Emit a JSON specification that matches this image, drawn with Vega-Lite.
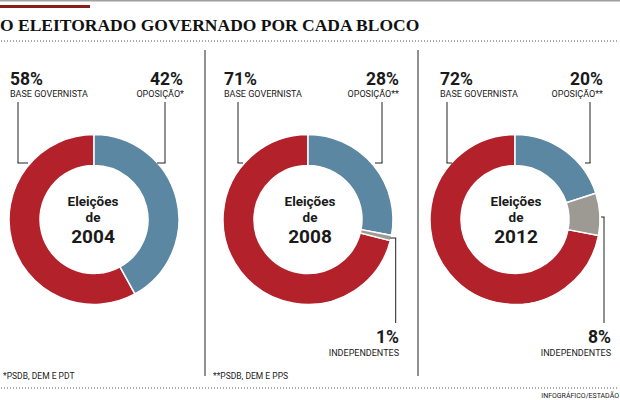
{
  "$schema": "https://vega.github.io/schema/vega-lite/v6.json",
  "padding": 0,
  "background": "white",
  "spacing": 0,
  "bounds": "flush",
  "config": {"view": {"stroke": null}, "text": {"font": "Roboto", "color": "#1a1a1a"}},
  "datasets": {
    "eleicoes": [
      {"ano": "2004", "bloco": "Base governista", "pct": 0.58, "rotulo": "BASE GOVERNISTA"},
      {"ano": "2004", "bloco": "Oposição", "pct": 0.42, "rotulo": "OPOSIÇÃO*"},
      {"ano": "2008", "bloco": "Base governista", "pct": 0.71, "rotulo": "BASE GOVERNISTA"},
      {"ano": "2008", "bloco": "Oposição", "pct": 0.28, "rotulo": "OPOSIÇÃO**"},
      {"ano": "2008", "bloco": "Independentes", "pct": 0.01, "rotulo": "INDEPENDENTES"},
      {"ano": "2012", "bloco": "Base governista", "pct": 0.72, "rotulo": "BASE GOVERNISTA"},
      {"ano": "2012", "bloco": "Oposição", "pct": 0.20, "rotulo": "OPOSIÇÃO**"},
      {"ano": "2012", "bloco": "Independentes", "pct": 0.08, "rotulo": "INDEPENDENTES"}
    ]
  },
  "hconcat": [
    {
      "width": 205, "height": 400,
      "data": {"name": "eleicoes"},
      "transform": [{"filter": "datum.ano == '2004'"}],
      "layer": [
        {"transform": [{"filter": "datum.bloco == 'Base governista'"}],
         "mark": {"type": "rect", "fill": "#a0a0a0", "strokeWidth": 0},
         "encoding": {"x": {"value": 0}, "x2": {"value": 620}, "y": {"value": 0}, "y2": {"value": 1.5}}},
        {"transform": [{"filter": "datum.bloco == 'Base governista'"}],
         "mark": {"type": "rect", "fill": "#8c1c1c", "strokeWidth": 0},
         "encoding": {"x": {"value": 0}, "x2": {"value": 90}, "y": {"value": 5}, "y2": {"value": 8}}},
        {"transform": [{"filter": "datum.bloco == 'Base governista'"}],
         "mark": {"type": "text", "text": "O ELEITORADO GOVERNADO POR CADA BLOCO", "font": "Liberation Serif", "fontWeight": "bold", "fontSize": 17.5, "align": "left", "baseline": "alphabetic", "color": "#111111"},
         "encoding": {"x": {"value": 0}, "y": {"value": 31}}},
        {"transform": [{"filter": "datum.bloco == 'Base governista'"}],
         "mark": {"type": "rule", "stroke": "#555555", "strokeWidth": 1, "strokeDash": [1, 2]},
         "encoding": {"x": {"value": 1}, "x2": {"value": 619}, "y": {"value": 41}, "y2": {"value": 41}}},
        {"transform": [{"filter": "datum.bloco == 'Base governista'"}],
         "mark": {"type": "rule", "stroke": "#555555", "strokeWidth": 1, "strokeDash": [1, 2]},
         "encoding": {"x": {"value": 1}, "x2": {"value": 619}, "y": {"value": 388}, "y2": {"value": 388}}},
        {"mark": {"type": "arc", "outerRadius": 85, "innerRadius": 54, "stroke": "white", "strokeWidth": 1.5},
         "encoding": {
           "x": {"value": 94}, "y": {"value": 219.5},
           "theta": {"field": "pct", "type": "quantitative", "stack": true},
           "order": {"field": "bloco", "sort": "descending"},
           "color": {"field": "bloco", "type": "nominal", "legend": null,
             "scale": {"domain": ["Oposição", "Independentes", "Base governista"], "range": ["#5b87a2", "#9c9a92", "#b3212a"]}}}},
        {"transform": [{"filter": "datum.bloco == 'Base governista'"}],
         "mark": {"type": "text", "text": "Eleições", "fontWeight": "bold", "fontSize": 13.5, "align": "center", "baseline": "alphabetic"},
         "encoding": {"x": {"value": 93}, "y": {"value": 206}}},
        {"transform": [{"filter": "datum.bloco == 'Base governista'"}],
         "mark": {"type": "text", "text": "de", "fontWeight": "bold", "fontSize": 13.5, "align": "center", "baseline": "alphabetic"},
         "encoding": {"x": {"value": 93}, "y": {"value": 222}}},
        {"transform": [{"filter": "datum.bloco == 'Base governista'"}],
         "mark": {"type": "text", "fontWeight": "bold", "fontSize": 19, "align": "center", "baseline": "alphabetic"},
         "encoding": {"x": {"value": 93}, "y": {"value": 243}, "text": {"field": "ano"}}},
        {"transform": [{"filter": "datum.bloco == 'Base governista'"}],
         "mark": {"type": "text", "fontWeight": "bold", "fontSize": 17.5, "align": "left", "baseline": "alphabetic"},
         "encoding": {"x": {"value": 10}, "y": {"value": 85}, "text": {"field": "pct", "format": ".0%"}}},
        {"transform": [{"filter": "datum.bloco == 'Base governista'"}],
         "mark": {"type": "text", "fontSize": 9, "align": "left", "baseline": "alphabetic"},
         "encoding": {"x": {"value": 10}, "y": {"value": 97}, "text": {"field": "rotulo"}}},
        {"transform": [{"filter": "datum.bloco == 'Oposição'"}],
         "mark": {"type": "text", "fontWeight": "bold", "fontSize": 17.5, "align": "right", "baseline": "alphabetic"},
         "encoding": {"x": {"value": 183}, "y": {"value": 85}, "text": {"field": "pct", "format": ".0%"}}},
        {"transform": [{"filter": "datum.bloco == 'Oposição'"}],
         "mark": {"type": "text", "fontSize": 9, "align": "right", "baseline": "alphabetic"},
         "encoding": {"x": {"value": 184}, "y": {"value": 97}, "text": {"field": "rotulo"}}},
        {"transform": [{"filter": "datum.bloco == 'Base governista'"}],
         "mark": {"type": "rule", "stroke": "#222222", "strokeWidth": 1},
         "encoding": {"x": {"value": 18}, "x2": {"value": 18}, "y": {"value": 102}, "y2": {"value": 163}}},
        {"transform": [{"filter": "datum.bloco == 'Base governista'"}],
         "mark": {"type": "rule", "stroke": "#222222", "strokeWidth": 1},
         "encoding": {"x": {"value": 17.5}, "x2": {"value": 28}, "y": {"value": 163}, "y2": {"value": 163}}},
        {"transform": [{"filter": "datum.bloco == 'Oposição'"}],
         "mark": {"type": "rule", "stroke": "#222222", "strokeWidth": 1},
         "encoding": {"x": {"value": 165}, "x2": {"value": 165}, "y": {"value": 102}, "y2": {"value": 163}}},
        {"transform": [{"filter": "datum.bloco == 'Oposição'"}],
         "mark": {"type": "rule", "stroke": "#222222", "strokeWidth": 1},
         "encoding": {"x": {"value": 165.5}, "x2": {"value": 157}, "y": {"value": 163}, "y2": {"value": 163}}},
        {"transform": [{"filter": "datum.bloco == 'Base governista'"}],
         "mark": {"type": "text", "text": "*PSDB, DEM E PDT", "fontSize": 8.5, "align": "left", "baseline": "alphabetic"},
         "encoding": {"x": {"value": 3}, "y": {"value": 379}}}
      ]
    },
    {
      "width": 213, "height": 400,
      "data": {"name": "eleicoes"},
      "transform": [{"filter": "datum.ano == '2008'"}],
      "layer": [
        {"transform": [{"filter": "datum.bloco == 'Base governista'"}],
         "mark": {"type": "rule", "stroke": "#222222", "strokeWidth": 1},
         "encoding": {"x": {"value": 0}, "x2": {"value": 0}, "y": {"value": 50}, "y2": {"value": 376}}},
        {"mark": {"type": "arc", "outerRadius": 85, "innerRadius": 54, "stroke": "white", "strokeWidth": 1.5},
         "encoding": {
           "x": {"value": 103}, "y": {"value": 219.5},
           "theta": {"field": "pct", "type": "quantitative", "stack": true},
           "order": {"field": "bloco", "sort": "descending"},
           "color": {"field": "bloco", "type": "nominal", "legend": null,
             "scale": {"domain": ["Oposição", "Independentes", "Base governista"], "range": ["#5b87a2", "#9c9a92", "#b3212a"]}}}},
        {"transform": [{"filter": "datum.bloco == 'Base governista'"}],
         "mark": {"type": "text", "text": "Eleições", "fontWeight": "bold", "fontSize": 13.5, "align": "center", "baseline": "alphabetic"},
         "encoding": {"x": {"value": 105}, "y": {"value": 206}}},
        {"transform": [{"filter": "datum.bloco == 'Base governista'"}],
         "mark": {"type": "text", "text": "de", "fontWeight": "bold", "fontSize": 13.5, "align": "center", "baseline": "alphabetic"},
         "encoding": {"x": {"value": 105}, "y": {"value": 222}}},
        {"transform": [{"filter": "datum.bloco == 'Base governista'"}],
         "mark": {"type": "text", "fontWeight": "bold", "fontSize": 19, "align": "center", "baseline": "alphabetic"},
         "encoding": {"x": {"value": 105}, "y": {"value": 243}, "text": {"field": "ano"}}},
        {"transform": [{"filter": "datum.bloco == 'Base governista'"}],
         "mark": {"type": "text", "fontWeight": "bold", "fontSize": 17.5, "align": "left", "baseline": "alphabetic"},
         "encoding": {"x": {"value": 19}, "y": {"value": 85}, "text": {"field": "pct", "format": ".0%"}}},
        {"transform": [{"filter": "datum.bloco == 'Base governista'"}],
         "mark": {"type": "text", "fontSize": 9, "align": "left", "baseline": "alphabetic"},
         "encoding": {"x": {"value": 19}, "y": {"value": 97}, "text": {"field": "rotulo"}}},
        {"transform": [{"filter": "datum.bloco == 'Oposição'"}],
         "mark": {"type": "text", "fontWeight": "bold", "fontSize": 17.5, "align": "right", "baseline": "alphabetic"},
         "encoding": {"x": {"value": 194}, "y": {"value": 85}, "text": {"field": "pct", "format": ".0%"}}},
        {"transform": [{"filter": "datum.bloco == 'Oposição'"}],
         "mark": {"type": "text", "fontSize": 9, "align": "right", "baseline": "alphabetic"},
         "encoding": {"x": {"value": 194}, "y": {"value": 97}, "text": {"field": "rotulo"}}},
        {"transform": [{"filter": "datum.bloco == 'Independentes'"}],
         "mark": {"type": "text", "fontWeight": "bold", "fontSize": 17.5, "align": "right", "baseline": "alphabetic"},
         "encoding": {"x": {"value": 194}, "y": {"value": 343}, "text": {"field": "pct", "format": ".0%"}}},
        {"transform": [{"filter": "datum.bloco == 'Independentes'"}],
         "mark": {"type": "text", "fontSize": 9, "align": "right", "baseline": "alphabetic"},
         "encoding": {"x": {"value": 194}, "y": {"value": 356}, "text": {"field": "rotulo"}}},
        {"transform": [{"filter": "datum.bloco == 'Base governista'"}],
         "mark": {"type": "rule", "stroke": "#222222", "strokeWidth": 1},
         "encoding": {"x": {"value": 33}, "x2": {"value": 33}, "y": {"value": 102}, "y2": {"value": 163}}},
        {"transform": [{"filter": "datum.bloco == 'Base governista'"}],
         "mark": {"type": "rule", "stroke": "#222222", "strokeWidth": 1},
         "encoding": {"x": {"value": 32.5}, "x2": {"value": 38}, "y": {"value": 163}, "y2": {"value": 163}}},
        {"transform": [{"filter": "datum.bloco == 'Oposição'"}],
         "mark": {"type": "rule", "stroke": "#222222", "strokeWidth": 1},
         "encoding": {"x": {"value": 177}, "x2": {"value": 177}, "y": {"value": 102}, "y2": {"value": 163}}},
        {"transform": [{"filter": "datum.bloco == 'Oposição'"}],
         "mark": {"type": "rule", "stroke": "#222222", "strokeWidth": 1},
         "encoding": {"x": {"value": 177.5}, "x2": {"value": 170}, "y": {"value": 163}, "y2": {"value": 163}}},
        {"transform": [{"filter": "datum.bloco == 'Independentes'"}],
         "mark": {"type": "rule", "stroke": "#222222", "strokeWidth": 1},
         "encoding": {"x": {"value": 185}, "x2": {"value": 191.2}, "y": {"value": 238}, "y2": {"value": 238}}},
        {"transform": [{"filter": "datum.bloco == 'Independentes'"}],
         "mark": {"type": "rule", "stroke": "#222222", "strokeWidth": 1},
         "encoding": {"x": {"value": 190.7}, "x2": {"value": 190.7}, "y": {"value": 238}, "y2": {"value": 323}}},
        {"transform": [{"filter": "datum.bloco == 'Base governista'"}],
         "mark": {"type": "text", "text": "**PSDB, DEM E PPS", "fontSize": 8.5, "align": "left", "baseline": "alphabetic"},
         "encoding": {"x": {"value": 8}, "y": {"value": 379}}}
      ]
    },
    {
      "width": 202, "height": 400,
      "data": {"name": "eleicoes"},
      "transform": [{"filter": "datum.ano == '2012'"}],
      "layer": [
        {"transform": [{"filter": "datum.bloco == 'Base governista'"}],
         "mark": {"type": "rule", "stroke": "#222222", "strokeWidth": 1},
         "encoding": {"x": {"value": 0}, "x2": {"value": 0}, "y": {"value": 50}, "y2": {"value": 376}}},
        {"mark": {"type": "arc", "outerRadius": 85, "innerRadius": 54, "stroke": "white", "strokeWidth": 1.5},
         "encoding": {
           "x": {"value": 97}, "y": {"value": 219.5},
           "theta": {"field": "pct", "type": "quantitative", "stack": true},
           "order": {"field": "bloco", "sort": "descending"},
           "color": {"field": "bloco", "type": "nominal", "legend": null,
             "scale": {"domain": ["Oposição", "Independentes", "Base governista"], "range": ["#5b87a2", "#9c9a92", "#b3212a"]}}}},
        {"transform": [{"filter": "datum.bloco == 'Base governista'"}],
         "mark": {"type": "text", "text": "Eleições", "fontWeight": "bold", "fontSize": 13.5, "align": "center", "baseline": "alphabetic"},
         "encoding": {"x": {"value": 98}, "y": {"value": 206}}},
        {"transform": [{"filter": "datum.bloco == 'Base governista'"}],
         "mark": {"type": "text", "text": "de", "fontWeight": "bold", "fontSize": 13.5, "align": "center", "baseline": "alphabetic"},
         "encoding": {"x": {"value": 98}, "y": {"value": 222}}},
        {"transform": [{"filter": "datum.bloco == 'Base governista'"}],
         "mark": {"type": "text", "fontWeight": "bold", "fontSize": 19, "align": "center", "baseline": "alphabetic"},
         "encoding": {"x": {"value": 98}, "y": {"value": 243}, "text": {"field": "ano"}}},
        {"transform": [{"filter": "datum.bloco == 'Base governista'"}],
         "mark": {"type": "text", "fontWeight": "bold", "fontSize": 17.5, "align": "left", "baseline": "alphabetic"},
         "encoding": {"x": {"value": 22}, "y": {"value": 85}, "text": {"field": "pct", "format": ".0%"}}},
        {"transform": [{"filter": "datum.bloco == 'Base governista'"}],
         "mark": {"type": "text", "fontSize": 9, "align": "left", "baseline": "alphabetic"},
         "encoding": {"x": {"value": 22}, "y": {"value": 97}, "text": {"field": "rotulo"}}},
        {"transform": [{"filter": "datum.bloco == 'Oposição'"}],
         "mark": {"type": "text", "fontWeight": "bold", "fontSize": 17.5, "align": "right", "baseline": "alphabetic"},
         "encoding": {"x": {"value": 185}, "y": {"value": 85}, "text": {"field": "pct", "format": ".0%"}}},
        {"transform": [{"filter": "datum.bloco == 'Oposição'"}],
         "mark": {"type": "text", "fontSize": 9, "align": "right", "baseline": "alphabetic"},
         "encoding": {"x": {"value": 185}, "y": {"value": 97}, "text": {"field": "rotulo"}}},
        {"transform": [{"filter": "datum.bloco == 'Independentes'"}],
         "mark": {"type": "text", "fontWeight": "bold", "fontSize": 17.5, "align": "right", "baseline": "alphabetic"},
         "encoding": {"x": {"value": 193}, "y": {"value": 343}, "text": {"field": "pct", "format": ".0%"}}},
        {"transform": [{"filter": "datum.bloco == 'Independentes'"}],
         "mark": {"type": "text", "fontSize": 9, "align": "right", "baseline": "alphabetic"},
         "encoding": {"x": {"value": 193}, "y": {"value": 356}, "text": {"field": "rotulo"}}},
        {"transform": [{"filter": "datum.bloco == 'Base governista'"}],
         "mark": {"type": "rule", "stroke": "#222222", "strokeWidth": 1},
         "encoding": {"x": {"value": 29}, "x2": {"value": 29}, "y": {"value": 102}, "y2": {"value": 163}}},
        {"transform": [{"filter": "datum.bloco == 'Base governista'"}],
         "mark": {"type": "rule", "stroke": "#222222", "strokeWidth": 1},
         "encoding": {"x": {"value": 28.5}, "x2": {"value": 34}, "y": {"value": 163}, "y2": {"value": 163}}},
        {"transform": [{"filter": "datum.bloco == 'Oposição'"}],
         "mark": {"type": "rule", "stroke": "#222222", "strokeWidth": 1},
         "encoding": {"x": {"value": 172}, "x2": {"value": 172}, "y": {"value": 102}, "y2": {"value": 163}}},
        {"transform": [{"filter": "datum.bloco == 'Oposição'"}],
         "mark": {"type": "rule", "stroke": "#222222", "strokeWidth": 1},
         "encoding": {"x": {"value": 172.5}, "x2": {"value": 167}, "y": {"value": 163}, "y2": {"value": 163}}},
        {"transform": [{"filter": "datum.bloco == 'Independentes'"}],
         "mark": {"type": "rule", "stroke": "#222222", "strokeWidth": 1},
         "encoding": {"x": {"value": 183}, "x2": {"value": 186.5}, "y": {"value": 217}, "y2": {"value": 217}}},
        {"transform": [{"filter": "datum.bloco == 'Independentes'"}],
         "mark": {"type": "rule", "stroke": "#222222", "strokeWidth": 1},
         "encoding": {"x": {"value": 186}, "x2": {"value": 186}, "y": {"value": 217}, "y2": {"value": 323}}},
        {"transform": [{"filter": "datum.bloco == 'Base governista'"}],
         "mark": {"type": "text", "text": "INFOGRÁFICO/ESTADÃO", "fontSize": 7, "align": "right", "baseline": "alphabetic"},
         "encoding": {"x": {"value": 201}, "y": {"value": 398}}}
      ]
    }
  ]
}
